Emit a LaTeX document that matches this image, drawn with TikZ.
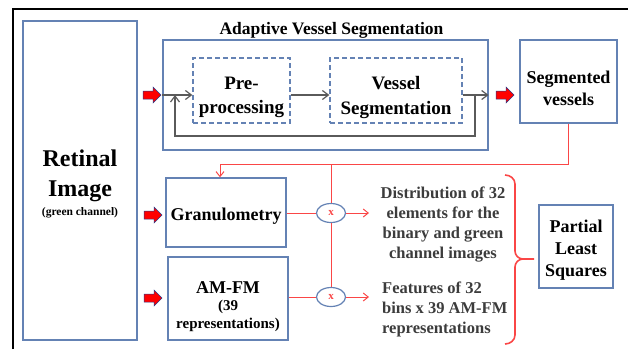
\documentclass[tikz,border=0pt]{standalone}
\usepackage{fontspec}
\setmainfont{Liberation Serif}
\usetikzlibrary{arrows.meta,shapes.geometric}
\definecolor{boxblue}{RGB}{100,130,180}
\definecolor{arrgray}{RGB}{90,90,90}
\definecolor{lred}{RGB}{250,70,70}
\definecolor{txtgray}{RGB}{60,60,60}
\definecolor{arrblue}{RGB}{40,60,140}
\tikzset{
  bluebox/.style={draw=boxblue,line width=1.3pt,inner sep=0pt},
  dashbox/.style={draw=boxblue,line width=1.3pt,dash pattern=on 5pt off 3pt,inner sep=0pt},
  boxtext/.style={inner sep=0pt,align=center,font=\bfseries},
  grayarr/.style={draw=arrgray,line width=1.5pt,-{Straight Barb[length=6pt,width=9pt,line width=1.2pt]}},
  redline/.style={draw=lred,line width=1pt},
  redarr/.style={draw=lred,line width=1pt,-{Straight Barb[length=5pt,width=8pt]}},
  mult/.style={draw=boxblue,line width=1.2pt,ellipse,fill=white,minimum width=29pt,minimum height=19pt,inner sep=0pt,text=lred,font=\bfseries\fontsize{11}{12}\selectfont},
  sidetext/.style={text=txtgray,font=\bfseries\fontsize{16.5}{20}\selectfont,inner sep=0pt},
  redblock/.pic={\filldraw[fill=red,draw=arrblue,line width=0.5pt] (-9,-4) -- (1,-4) -- (1,-8) -- (9,0) -- (1,8) -- (1,4) -- (-9,4) -- cycle;}
}
\begin{document}
\begin{tikzpicture}[x=1pt,y=-1pt]
\useasboundingbox (0,0) rectangle (628,349);
\draw[line width=2pt] (13,349) -- (13,9) -- (628,9);
% boxes
\node[bluebox,minimum width=114pt,minimum height=319pt] (ret) at (80,180.5) {};
\node[bluebox,minimum width=325pt,minimum height=110pt] (ad) at (325.5,95) {};
\node[dashbox,minimum width=97pt,minimum height=65pt] (pre) at (241.5,90.5) {};
\node[dashbox,minimum width=132pt,minimum height=65pt] (vs) at (396,90.5) {};
\node[bluebox,minimum width=97pt,minimum height=83pt] (sv) at (568.5,81.5) {};
\node[bluebox,minimum width=120pt,minimum height=69pt] (gran) at (226,212.5) {};
\node[bluebox,minimum width=120pt,minimum height=83pt] (amfm) at (228,298.5) {};
\node[bluebox,minimum width=74pt,minimum height=83pt] (pls) at (576,246.5) {};
% box texts
\node[boxtext,font=\bfseries\fontsize{24}{30}\selectfont] (rettext) at (80,183.5) {Retinal\\Image\\[-11pt]{\fontsize{11.5}{13}\selectfont (green channel)}};
\node[boxtext,font=\bfseries\fontsize{17.5}{20}\selectfont] (title) at (331.5,30) {Adaptive Vessel Segmentation};
\node[boxtext,font=\bfseries\fontsize{19}{24}\selectfont] (pretext) at (241.5,97.5) {Pre-\\processing};
\node[boxtext,font=\bfseries\fontsize{19}{25}\selectfont] (vstext) at (396,97.5) {Vessel\\Segmentation};
\node[boxtext,font=\bfseries\fontsize{18}{22}\selectfont] (svtext) at (568.5,88.5) {Segmented\\vessels};
\node[boxtext,font=\bfseries\fontsize{18}{22}\selectfont] (grantext) at (226,216.5) {Granulometry};
\node[boxtext,font=\bfseries\fontsize{18}{19}\selectfont] (amfmtext) at (228,307) {AM-FM\\[-2pt]{\fontsize{15}{18}\selectfont (39}\\[-1pt]{\fontsize{15}{18}\selectfont representations)}};
\node[boxtext,font=\bfseries\fontsize{18}{22}\selectfont] (plstext) at (576,250.5) {Partial\\Least\\Squares};
% multipliers
\node[mult] (c1) at (331,213) {x};
\node[mult] (c2) at (331,297) {x};
% side texts
\node[sidetext,align=center] (dist) at (443,225) {Distribution of 32\\elements for the\\binary and green\\channel images};
\node[sidetext,align=left,anchor=west] (feat) at (382,309) {Features of 32\\bins x 39 AM-FM\\representations};
% coordinates
\coordinate (ml) at (0,95);
\coordinate (fb) at (475,95);
\coordinate (fbb) at (475,136);
\coordinate (fbl) at (175,136);
\coordinate (gin) at (220,164);
\coordinate (t1) at (369,213);
\coordinate (t2) at (369,297);
% red block arrows
\pic at (152,95) {redblock};
\pic at (505,95) {redblock};
\pic at (153,215) {redblock};
\pic at (153,298) {redblock};
% gray arrows
\draw[grayarr] (ad.west |- ml) -- (pre.west |- ml);
\draw[grayarr] (pre.east |- ml) -- (vs.west |- ml);
\draw[grayarr] (vs.east |- ml) -- (ad.east |- ml);
\draw[grayarr] (fb) -- (fbb) -- (fbl) -- (fbl |- ml);
% red connectors
\draw[redarr] (sv.south) |- (gin) -- (gin |- gran.north);
\draw[redline] (c1 |- gin) -- (c1.north);
\draw[redline] (c1.south) -- (c2.north);
\draw[redline] (gran.east |- c1) -- (c1.west);
\draw[redline] (amfm.east |- c2) -- (c2.west);
\draw[redarr] (c1.east) -- (t1);
\draw[redarr] (c2.east) -- (t2);
% brace
\draw[draw=lred,line width=1.6pt] (505,175) to[out=0,in=90] (515,184) -- (515,251) to[out=-90,in=180] (523,259) -- (534,259);
\draw[draw=lred,line width=1.6pt] (523,259) to[out=180,in=90] (515,267) -- (515,335) to[out=-90,in=0] (505,344);
\end{tikzpicture}
\end{document}
